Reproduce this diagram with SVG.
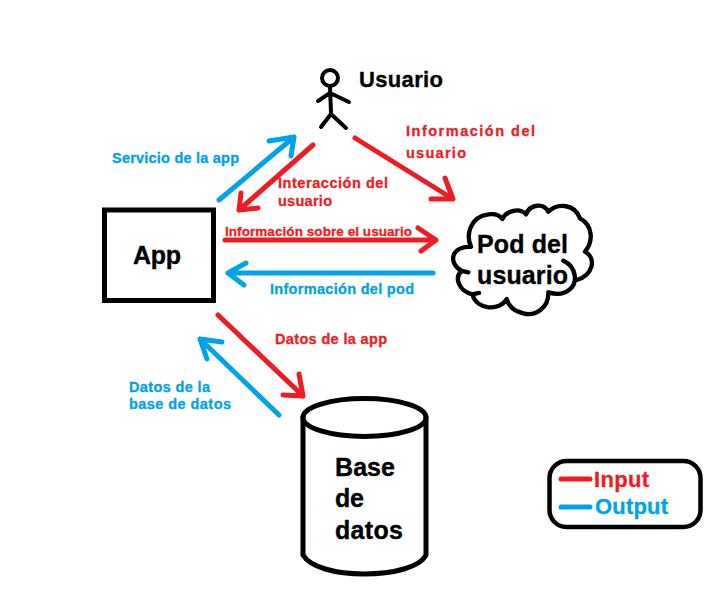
<svg xmlns="http://www.w3.org/2000/svg" width="718" height="594" viewBox="0 0 718 594">
<style>
text{font-family:"Liberation Sans",Arial,sans-serif;font-weight:700}
.k{fill:#000;stroke:#000;stroke-width:.35}.r{fill:#ed1c24;stroke:#ed1c24;stroke-width:.3}.b{fill:#00a2e8;stroke:#00a2e8;stroke-width:.3}
.s{font-size:14.5px}.m{font-size:25px}.l{font-size:22px}
.ln{fill:none;stroke-width:5;stroke-linecap:round;stroke-linejoin:round}
.red{stroke:#ed1c24}.blue{stroke:#00a2e8}
.o{fill:none;stroke:#000;stroke-linecap:round;stroke-linejoin:round}
</style>
<rect width="718" height="594" fill="#fff"/>
<g id="connectors">
<path class="ln blue" d="M219 200L294 137M269 141L294 137L291 156"/>
<path class="ln red" d="M313 145L239 210M241 193L239 210L258 208"/>
<path class="ln red" d="M355 138L453 199M445 178L453 199L431 199"/>
<path class="ln red" d="M225 240H436M418 228L436 240L421 251"/>
<path class="ln blue" d="M433 273H228M246 263L228 273L244 285"/>
<path class="ln red" d="M218 315L303 396M299 374L303 396L283 395"/>
<path class="ln blue" d="M279 415L200 339M222 342L200 339L207 359"/>
</g>
<g id="connector-labels">
<text class="s b" x="112" y="163" textLength="127">Servicio de la app</text>
<text class="s r" x="278" y="188" textLength="110">Interacción del</text>
<text class="s r" x="278" y="206" textLength="54">usuario</text>
<text class="s r" x="225" y="236" textLength="187" style="font-size:13.500px">Información sobre el usuario</text>
<text class="s b" x="270" y="294" textLength="144">Información del pod</text>
<text class="s r" x="406" y="136" textLength="129">Información del</text>
<text class="s r" x="406" y="158" textLength="60">usuario</text>
<text class="s r" x="275" y="344" textLength="112">Datos de la app</text>
<text class="s b" x="129" y="392" textLength="81">Datos de la</text>
<text class="s b" x="129" y="409" textLength="102">base de datos</text>
</g>
<g id="usuario">
<circle class="o" cx="330" cy="78" r="8" stroke-width="4"/>
<path class="o" stroke-width="4" d="M330 87L331 113M318 101L330 93L349 102M321 127L331 114L346 128"/>
<text class="k" x="359" y="87" font-size="22" textLength="84">Usuario</text>
</g>
<g id="app">
<rect x="104.500" y="210" width="109" height="90.500" fill="none" stroke="#000" stroke-width="5"/>
<text class="k m" x="133" y="264" textLength="48">App</text>
</g>
<g id="pod">
<path class="o" transform="translate(445 195) scale(.3333)" stroke-width="13" d="M78 155C62 120 75 65 130 58C150 55 165 62 172 72C185 45 225 38 243 58C255 28 295 22 310 50C340 22 390 28 405 70C445 92 445 140 420 170C455 190 445 240 395 255M355 197C395 215 400 265 372 285C355 300 330 298 310 292C312 340 270 365 235 355C205 348 190 330 185 312C165 350 95 345 82 298L102 294M82 298C45 290 25 250 50 228L70 232M50 228C10 205 15 155 78 155"/>
<text class="k m" x="477" y="253" textLength="91">Pod del</text>
<text class="k m" x="477" y="284" textLength="91">usuario</text>
</g>
<g id="base-de-datos">
<ellipse class="o" cx="364.500" cy="417.500" rx="61.500" ry="19" stroke-width="5"/>
<path class="o" stroke-width="5" d="M303 417V555C310 567 335 574 364 574C394 574 420 567 426 555V417"/>
<text class="k m" x="335" y="476" textLength="60">Base</text>
<text class="k m" x="335" y="507" textLength="29">de</text>
<text class="k m" x="335" y="539" textLength="68">datos</text>
</g>
<g id="legend">
<rect x="549.500" y="461" width="151" height="66" rx="17" fill="none" stroke="#000" stroke-width="4.500"/>
<path class="ln red" d="M561 479H590"/>
<path class="ln blue" d="M561 507H590"/>
<text class="r l" x="594" y="487" textLength="55">Input</text>
<text class="b l" x="595" y="514" textLength="73">Output</text>
</g>
</svg>
